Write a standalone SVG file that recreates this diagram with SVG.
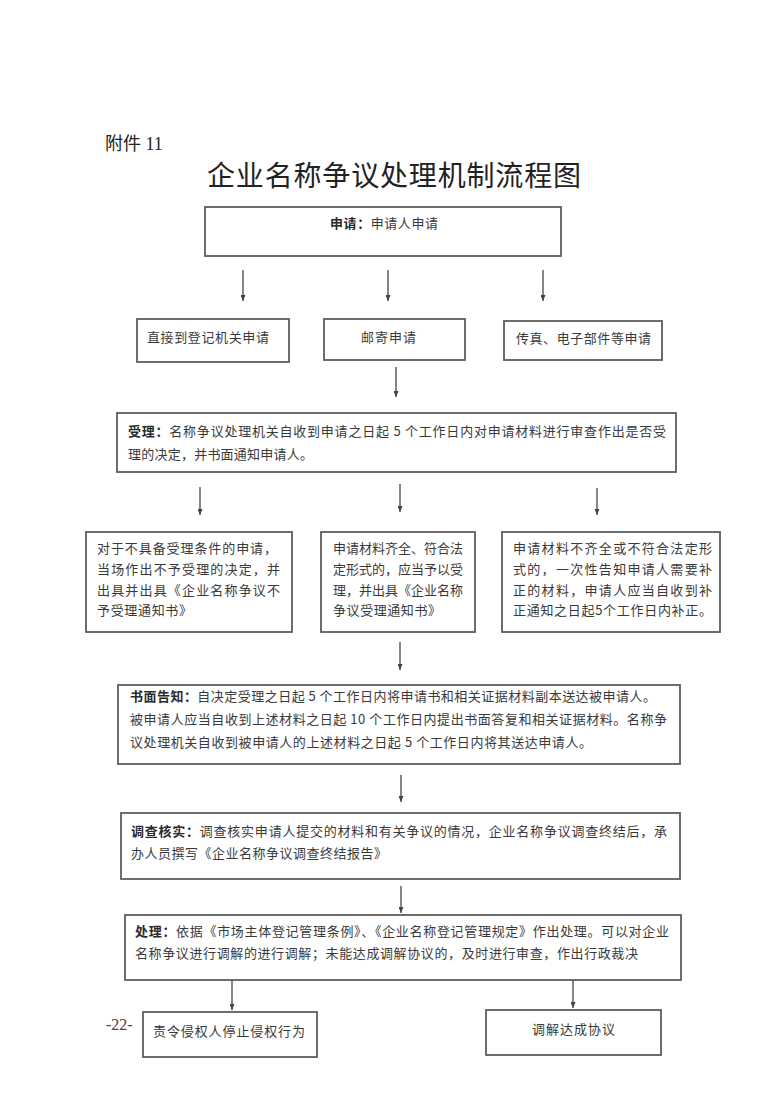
<svg xmlns="http://www.w3.org/2000/svg" width="782" height="1105" viewBox="0 0 782 1105">
<style>
.box{fill:#fff;stroke:#5e5e5e;stroke-width:1.8}
.t{font-family:"Noto Sans CJK SC","Liberation Sans",sans-serif;font-size:13px;fill:#3a3a3a}
.b{font-weight:bold;fill:#2a2a2a}
.con{stroke:#444;stroke-width:1.3;fill:none;marker-end:url(#ah)}
</style>
<defs>
<marker id="ah" markerUnits="userSpaceOnUse" markerWidth="6" markerHeight="5" refX="6" refY="2.5" orient="auto" viewBox="0 0 6 5">
<path d="M0,0 L6,2.5 L0,5 z" fill="#444"/>
</marker>
</defs>
<rect width="782" height="1105" fill="#fff"/>
<text x="105" y="150" font-family="Noto Sans CJK SC,sans-serif" font-size="18" fill="#222">附件<tspan font-family="Liberation Serif,serif"> 11</tspan></text>
<text x="207" y="186" font-family="Noto Sans CJK SC,sans-serif" font-size="28" fill="#222" textLength="374" lengthAdjust="spacing">企业名称争议处理机制流程图</text>

<g id="connectors">
<line class="con" x1="243" y1="270" x2="243" y2="301"/>
<line class="con" x1="388" y1="270" x2="388" y2="301"/>
<line class="con" x1="543" y1="270" x2="543" y2="301"/>
<line class="con" x1="396" y1="367" x2="396" y2="397"/>
<line class="con" x1="200" y1="487" x2="200" y2="515"/>
<line class="con" x1="400" y1="484" x2="400" y2="512"/>
<line class="con" x1="597" y1="488" x2="597" y2="515"/>
<line class="con" x1="400" y1="642" x2="400" y2="670"/>
<line class="con" x1="401" y1="775" x2="401" y2="802"/>
<line class="con" x1="401" y1="886" x2="401" y2="913"/>
<line class="con" x1="232" y1="980" x2="232" y2="1010"/>
<line class="con" x1="573" y1="980" x2="573" y2="1008"/>
</g>

<g id="n-apply">
<rect class="box" x="205" y="207" width="356" height="49"/>
<text class="t" x="330" y="228" textLength="108" lengthAdjust="spacing"><tspan class="b">申请：</tspan>申请人申请</text>
</g>

<g id="n-direct">
<rect class="box" x="137" y="319" width="152" height="43"/>
<text class="t" x="147" y="342" textLength="122" lengthAdjust="spacing">直接到登记机关申请</text>
</g>

<g id="n-mail">
<rect class="box" x="324" y="319" width="141" height="41"/>
<text class="t" x="361" y="342" textLength="55" lengthAdjust="spacing">邮寄申请</text>
</g>

<g id="n-fax">
<rect class="box" x="504" y="321" width="158" height="39"/>
<text class="t" x="516" y="343" textLength="135" lengthAdjust="spacing">传真、电子部件等申请</text>
</g>

<g id="n-accept">
<rect class="box" x="117" y="413" width="559" height="59"/>
<text class="t" x="128" y="436" textLength="538" lengthAdjust="spacing"><tspan class="b">受理：</tspan>名称争议处理机关自收到申请之日起 5 个工作日内对申请材料进行审查作出是否受</text>
<text class="t" x="128" y="459" textLength="185" lengthAdjust="spacing">理的决定，并书面通知申请人。</text>
</g>

<g id="n-reject">
<rect class="box" x="86" y="532" width="206" height="100"/>
<text class="t" x="97" y="553" textLength="180" lengthAdjust="spacing">对于不具备受理条件的申请，</text>
<text class="t" x="97" y="574" textLength="183" lengthAdjust="spacing">当场作出不予受理的决定，并</text>
<text class="t" x="97" y="595" textLength="183" lengthAdjust="spacing">出具并出具《企业名称争议不</text>
<text class="t" x="97" y="615" textLength="95" lengthAdjust="spacing">予受理通知书》</text>
</g>

<g id="n-admit">
<rect class="box" x="321" y="532" width="154" height="100"/>
<text class="t" x="333" y="553" textLength="130" lengthAdjust="spacing">申请材料齐全、符合法</text>
<text class="t" x="333" y="574" textLength="130" lengthAdjust="spacing">定形式的，应当予以受</text>
<text class="t" x="333" y="595" textLength="130" lengthAdjust="spacing">理，并出具《企业名称</text>
<text class="t" x="333" y="615" textLength="108" lengthAdjust="spacing">争议受理通知书》</text>
</g>

<g id="n-supplement">
<rect class="box" x="502" y="532" width="218" height="100"/>
<text class="t" x="513" y="553" textLength="199" lengthAdjust="spacing">申请材料不齐全或不符合法定形</text>
<text class="t" x="513" y="574" textLength="199" lengthAdjust="spacing">式的，一次性告知申请人需要补</text>
<text class="t" x="513" y="595" textLength="199" lengthAdjust="spacing">正的材料，申请人应当自收到补</text>
<text class="t" x="513" y="615" textLength="199" lengthAdjust="spacing">正通知之日起5个工作日内补正。</text>
</g>

<g id="n-notice">
<rect class="box" x="118" y="685" width="562" height="79"/>
<text class="t" x="130" y="701" textLength="526" lengthAdjust="spacing"><tspan class="b">书面告知：</tspan>自决定受理之日起 5 个工作日内将申请书和相关证据材料副本送达被申请人。</text>
<text class="t" x="130" y="724" textLength="537" lengthAdjust="spacing">被申请人应当自收到上述材料之日起 10 个工作日内提出书面答复和相关证据材料。名称争</text>
<text class="t" x="130" y="747" textLength="462" lengthAdjust="spacing">议处理机关自收到被申请人的上述材料之日起 5 个工作日内将其送达申请人。</text>
</g>

<g id="n-investigate">
<rect class="box" x="121" y="813" width="559" height="66"/>
<text class="t" x="131" y="836" textLength="536" lengthAdjust="spacing"><tspan class="b">调查核实：</tspan>调查核实申请人提交的材料和有关争议的情况，企业名称争议调查终结后，承</text>
<text class="t" x="131" y="858" textLength="256" lengthAdjust="spacing">办人员撰写《企业名称争议调查终结报告》</text>
</g>

<g id="n-handle">
<rect class="box" x="125" y="915" width="556" height="65"/>
<text class="t" x="135" y="936" textLength="534" lengthAdjust="spacing"><tspan class="b">处理：</tspan>依据《市场主体登记管理条例》、《企业名称登记管理规定》作出处理。可以对企业</text>
<text class="t" x="135" y="958" textLength="503" lengthAdjust="spacing">名称争议进行调解的进行调解；未能达成调解协议的，及时进行审查，作出行政裁决</text>
</g>

<g id="n-order">
<rect class="box" x="143" y="1012" width="174" height="45"/>
<text class="t" x="153" y="1036" textLength="152" lengthAdjust="spacing">责令侵权人停止侵权行为</text>
</g>

<g id="n-mediate">
<rect class="box" x="486" y="1010" width="175" height="45"/>
<text class="t" x="532" y="1034" textLength="83" lengthAdjust="spacing">调解达成协议</text>
</g>

<text x="106" y="1030" font-family="Liberation Serif,serif" font-size="16" fill="#444">-22-</text>
</svg>
